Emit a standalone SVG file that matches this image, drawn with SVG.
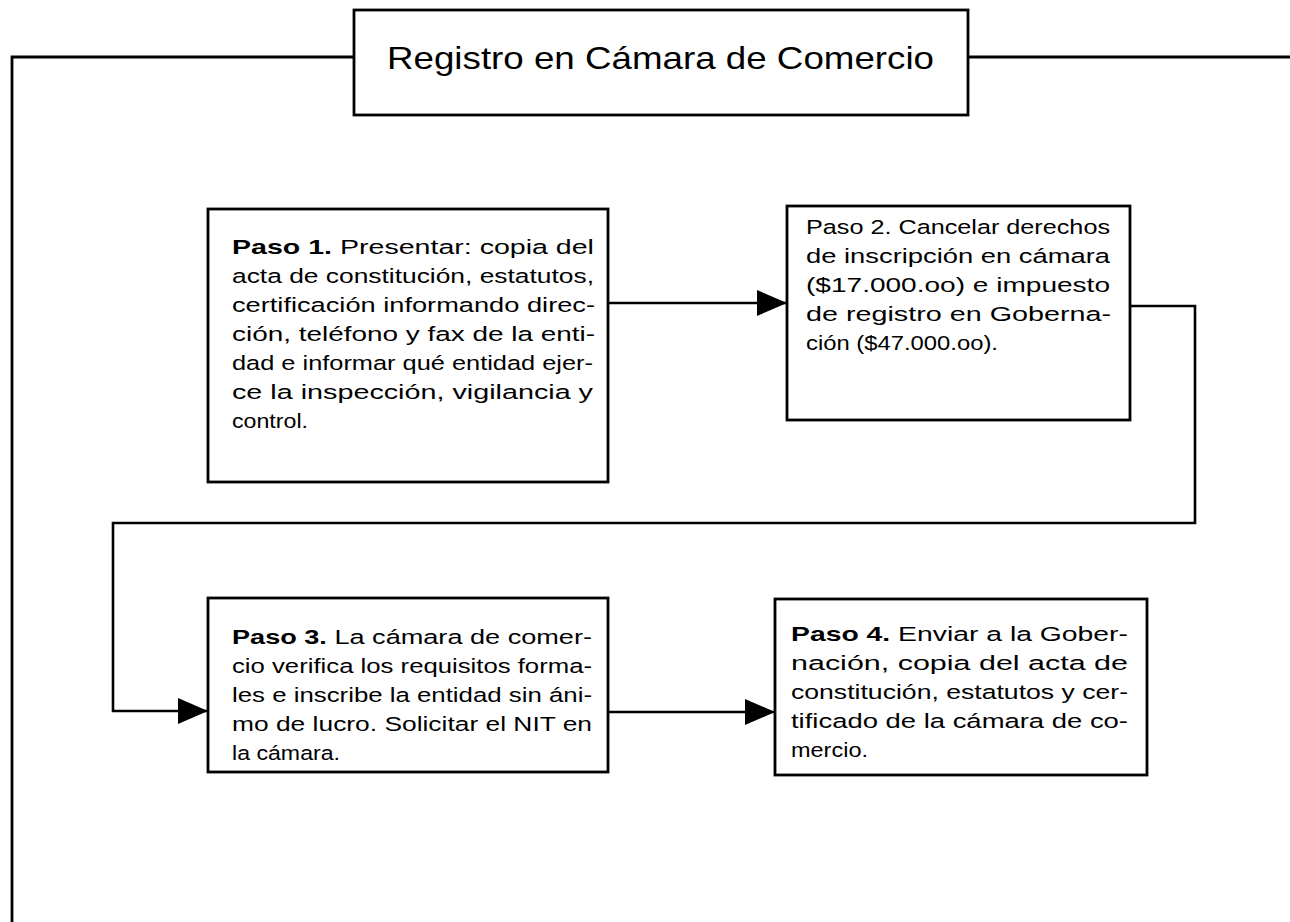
<svg xmlns="http://www.w3.org/2000/svg" width="1290" height="922" viewBox="0 0 1290 922">
<style>
  .box { fill: #ffffff; stroke: #000000; stroke-width: 2.8; }
  .conn { fill: none; stroke: #000000; stroke-width: 2.6; }
  .outer { fill: none; stroke: #000000; stroke-width: 2.8; }
  .t { font-family: "Liberation Sans", Arial, sans-serif; font-size: 20.5px; fill: #000000; }
  .title { font-family: "Liberation Sans", Arial, sans-serif; font-size: 32px; fill: #000000; }
  .b { font-weight: bold; }
</style>
<defs>
  <marker id="arrow" markerUnits="userSpaceOnUse" markerWidth="30" markerHeight="26" refX="30" refY="13" orient="auto">
    <path d="M0,0 L30,13 L0,26 Z" fill="#000000"/>
  </marker>
</defs>
<rect x="0" y="0" width="1290" height="922" fill="#ffffff"/>

<g id="connectors">
  <path class="outer" d="M354,57 L12,57 L12,922"/>
  <path class="outer" d="M968,57 L1290,57"/>
  <path class="conn" d="M608,303 L787,303" marker-end="url(#arrow)"/>
  <path class="conn" d="M1130,306 L1195,306 L1195,523 L113,523 L113,711 L208,711" marker-end="url(#arrow)"/>
  <path class="conn" d="M608,712 L775,712" marker-end="url(#arrow)"/>
</g>

<g id="title">
  <rect class="box" x="354" y="10" width="614" height="105"/>
  <text class="title" x="387" y="69" textLength="547" lengthAdjust="spacingAndGlyphs">Registro en Cámara de Comercio</text>
</g>

<g id="paso1">
  <rect class="box" x="208" y="209" width="400" height="273"/>
  <text class="t" x="232" y="254" textLength="362" lengthAdjust="spacingAndGlyphs"><tspan class="b">Paso 1.</tspan> Presentar: copia del</text>
  <text class="t" x="232" y="283" textLength="362" lengthAdjust="spacingAndGlyphs">acta de constitución, estatutos,</text>
  <text class="t" x="232" y="312" textLength="363" lengthAdjust="spacingAndGlyphs">certificación informando direc-</text>
  <text class="t" x="232" y="341" textLength="363" lengthAdjust="spacingAndGlyphs">ción, teléfono y fax de la enti-</text>
  <text class="t" x="232" y="370" textLength="361" lengthAdjust="spacingAndGlyphs">dad e informar qué entidad ejer-</text>
  <text class="t" x="232" y="399" textLength="361" lengthAdjust="spacingAndGlyphs">ce la inspección, vigilancia y</text>
  <text class="t" x="232" y="428" textLength="76" lengthAdjust="spacingAndGlyphs">control.</text>
</g>

<g id="paso2">
  <rect class="box" x="787" y="206" width="343" height="214"/>
  <text class="t" x="806" y="234" textLength="304" lengthAdjust="spacingAndGlyphs">Paso 2. Cancelar derechos</text>
  <text class="t" x="806" y="263" textLength="304" lengthAdjust="spacingAndGlyphs">de inscripción en cámara</text>
  <text class="t" x="806" y="292" textLength="304" lengthAdjust="spacingAndGlyphs">($17.000.oo) e impuesto</text>
  <text class="t" x="806" y="321" textLength="305" lengthAdjust="spacingAndGlyphs">de registro en Goberna-</text>
  <text class="t" x="806" y="350" textLength="192" lengthAdjust="spacingAndGlyphs">ción ($47.000.oo).</text>
</g>

<g id="paso3">
  <rect class="box" x="208" y="598" width="400" height="174"/>
  <text class="t" x="232" y="644" textLength="360" lengthAdjust="spacingAndGlyphs"><tspan class="b">Paso 3.</tspan> La cámara de comer-</text>
  <text class="t" x="232" y="673" textLength="360" lengthAdjust="spacingAndGlyphs">cio verifica los requisitos forma-</text>
  <text class="t" x="232" y="702" textLength="360" lengthAdjust="spacingAndGlyphs">les e inscribe la entidad sin áni-</text>
  <text class="t" x="232" y="731" textLength="360" lengthAdjust="spacingAndGlyphs">mo de lucro. Solicitar el NIT en</text>
  <text class="t" x="232" y="760" textLength="108" lengthAdjust="spacingAndGlyphs">la cámara.</text>
</g>

<g id="paso4">
  <rect class="box" x="775" y="599" width="372" height="176"/>
  <text class="t" x="791" y="641" textLength="337" lengthAdjust="spacingAndGlyphs"><tspan class="b">Paso 4.</tspan> Enviar a la Gober-</text>
  <text class="t" x="791" y="670" textLength="337" lengthAdjust="spacingAndGlyphs">nación, copia del acta de</text>
  <text class="t" x="791" y="699" textLength="337" lengthAdjust="spacingAndGlyphs">constitución, estatutos y cer-</text>
  <text class="t" x="791" y="728" textLength="337" lengthAdjust="spacingAndGlyphs">tificado de la cámara de co-</text>
  <text class="t" x="791" y="757" textLength="77" lengthAdjust="spacingAndGlyphs">mercio.</text>
</g>
</svg>
